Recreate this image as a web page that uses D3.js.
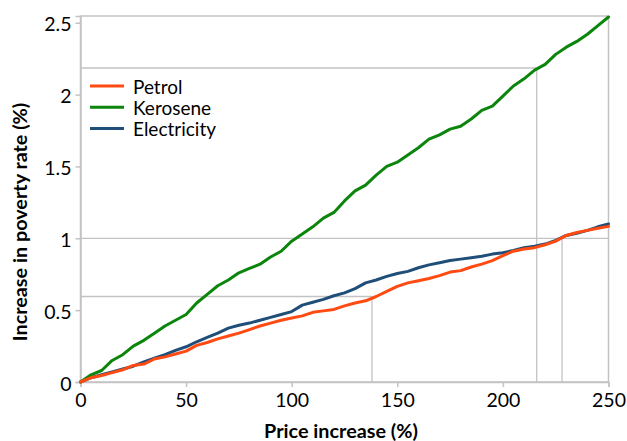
<!DOCTYPE html>
<html>
<head>
<meta charset="utf-8">
<script src="https://cdn.jsdelivr.net/npm/d3@7"></script>
<style>
  html, body { margin: 0; padding: 0; background: #fff; }
  svg { display: block; font-family: Lato, "Open Sans", sans-serif; }
</style>
</head>
<body>
<svg id="chart" width="627" height="441"></svg>
<script>
// Price increase (%) sampled every 5 points
const priceIncrease = d3.range(0, 251, 5);

const petrol = [0, 0.03, 0.045, 0.065, 0.085, 0.115, 0.125, 0.16, 0.175, 0.195,
  0.215, 0.255, 0.275, 0.30, 0.32, 0.34, 0.365, 0.39, 0.41, 0.43,
  0.445, 0.46, 0.485, 0.495, 0.505, 0.53, 0.55, 0.565, 0.595, 0.63,
  0.665, 0.69, 0.705, 0.72, 0.74, 0.765, 0.775, 0.80, 0.82, 0.845,
  0.88, 0.91, 0.925, 0.935, 0.955, 0.98, 1.02, 1.04, 1.055, 1.07, 1.083];

const kerosene = [0, 0.05, 0.08, 0.15, 0.19, 0.25, 0.29, 0.34, 0.39, 0.43,
  0.47, 0.55, 0.61, 0.67, 0.71, 0.76, 0.79, 0.82, 0.87, 0.91,
  0.98, 1.03, 1.08, 1.14, 1.18, 1.26, 1.33, 1.37, 1.44, 1.50,
  1.53, 1.58, 1.63, 1.69, 1.72, 1.76, 1.78, 1.83, 1.89, 1.92,
  1.99, 2.06, 2.11, 2.17, 2.21, 2.28, 2.33, 2.37, 2.42, 2.48, 2.54];

const electricity = [0, 0.03, 0.05, 0.07, 0.09, 0.11, 0.14, 0.165, 0.19, 0.22,
  0.245, 0.28, 0.31, 0.34, 0.375, 0.395, 0.41, 0.43, 0.45, 0.47,
  0.49, 0.535, 0.555, 0.575, 0.60, 0.62, 0.65, 0.69, 0.71, 0.735,
  0.755, 0.77, 0.795, 0.815, 0.83, 0.845, 0.855, 0.865, 0.875, 0.89,
  0.90, 0.915, 0.935, 0.945, 0.96, 0.985, 1.02, 1.035, 1.055, 1.08, 1.10];

const seriesNames = ["Petrol", "Kerosene", "Electricity"];
const seriesColors = ["#ff4a12", "#0b850b", "#1f4e79"];

const xTicks = [0, 50, 100, 150, 200, 250];
const yTicks = [0, 0.5, 1, 1.5, 2, 2.5];
const yTickLabels = ["0", "0.5", "1", "1.5", "2", "2.5"];

// Guide lines: price increase and poverty-rate increase they meet at
const guideX = [138, 216, 228];
const guideY = [0.595, 2.185, 1.0];
const guideYEnd = [138, 216, 250];

const svg = d3.select("#chart");
const plotLeft = 80.5, plotRight = 608.5, plotTop = 16, plotBottom = 382;

const x = d3.scaleLinear().domain([0, 250]).range([plotLeft, plotRight]);
const y = d3.scaleLinear().domain([0, 2.547]).range([plotBottom, plotTop]);

const grey = "#c3c3c3";

// guide lines
const guides = svg.append("g").attr("stroke", grey).attr("stroke-width", 1.3);
guideX.forEach((gx, i) => {
  guides.append("line")
    .attr("x1", x(0)).attr("x2", x(guideYEnd[i]))
    .attr("y1", y(guideY[i])).attr("y2", y(guideY[i]));
  guides.append("line")
    .attr("x1", x(gx)).attr("x2", x(gx))
    .attr("y1", y(0)).attr("y2", y(guideY[i]));
});

// plot frame
svg.append("rect")
  .attr("x", plotLeft).attr("y", plotTop)
  .attr("width", plotRight - plotLeft).attr("height", plotBottom - plotTop)
  .attr("fill", "none").attr("stroke", grey).attr("stroke-width", 1.5);

// axes
const xAxis = svg.append("g")
  .attr("transform", `translate(0,${plotBottom})`)
  .call(d3.axisBottom(x).tickValues(xTicks).tickSize(5).tickPadding(6));
const yAxis = svg.append("g")
  .attr("transform", `translate(${plotLeft},0)`)
  .call(d3.axisLeft(y).tickValues(yTicks).tickSize(5).tickPadding(4)
    .tickFormat((d, i) => yTickLabels[i]));

[xAxis, yAxis].forEach(a => {
  a.select(".domain").attr("stroke", grey).attr("stroke-width", 1.5);
  a.selectAll(".tick line").attr("stroke", grey).attr("stroke-width", 1.5);
  a.selectAll(".tick text")
    .attr("fill", "#000")
    .style("font-family", "Lato, 'Open Sans', sans-serif")
    .style("font-size", "19.5px");
});
yAxis.selectAll(".tick text").attr("dy", "0.42em");
xAxis.selectAll(".tick text").attr("dy", "0.7em");

// axis titles
svg.append("text")
  .attr("x", 341).attr("y", 438)
  .attr("text-anchor", "middle")
  .style("font-size", "19.8px").style("font-weight", "bold")
  .text("Price increase (%)");

svg.append("text")
  .attr("transform", "translate(27,222) rotate(-90)")
  .attr("text-anchor", "middle")
  .style("font-size", "19.8px").style("font-weight", "bold")
  .text("Increase in poverty rate (%)");

// series
const seriesValues = [petrol, kerosene, electricity];
const line = d3.line()
  .x((d, i) => x(priceIncrease[i]))
  .y(d => y(d));

const order = [2, 1, 0];
order.forEach(k => {
  svg.append("path")
    .datum(seriesValues[k])
    .attr("fill", "none")
    .attr("stroke", seriesColors[k])
    .attr("stroke-width", 3)
    .attr("stroke-linejoin", "round")
    .attr("stroke-linecap", "round")
    .attr("d", line);
});

// legend
const legend = svg.append("g");
seriesNames.forEach((name, i) => {
  const ly = 86 + i * 21.3;
  legend.append("line")
    .attr("x1", 90).attr("x2", 124)
    .attr("y1", ly).attr("y2", ly)
    .attr("stroke", seriesColors[i]).attr("stroke-width", 3);
  legend.append("text")
    .attr("x", 133).attr("y", ly)
    .attr("dy", "0.4em")
    .style("font-size", "19px")
    .text(name);
});
</script>
</body>
</html>
